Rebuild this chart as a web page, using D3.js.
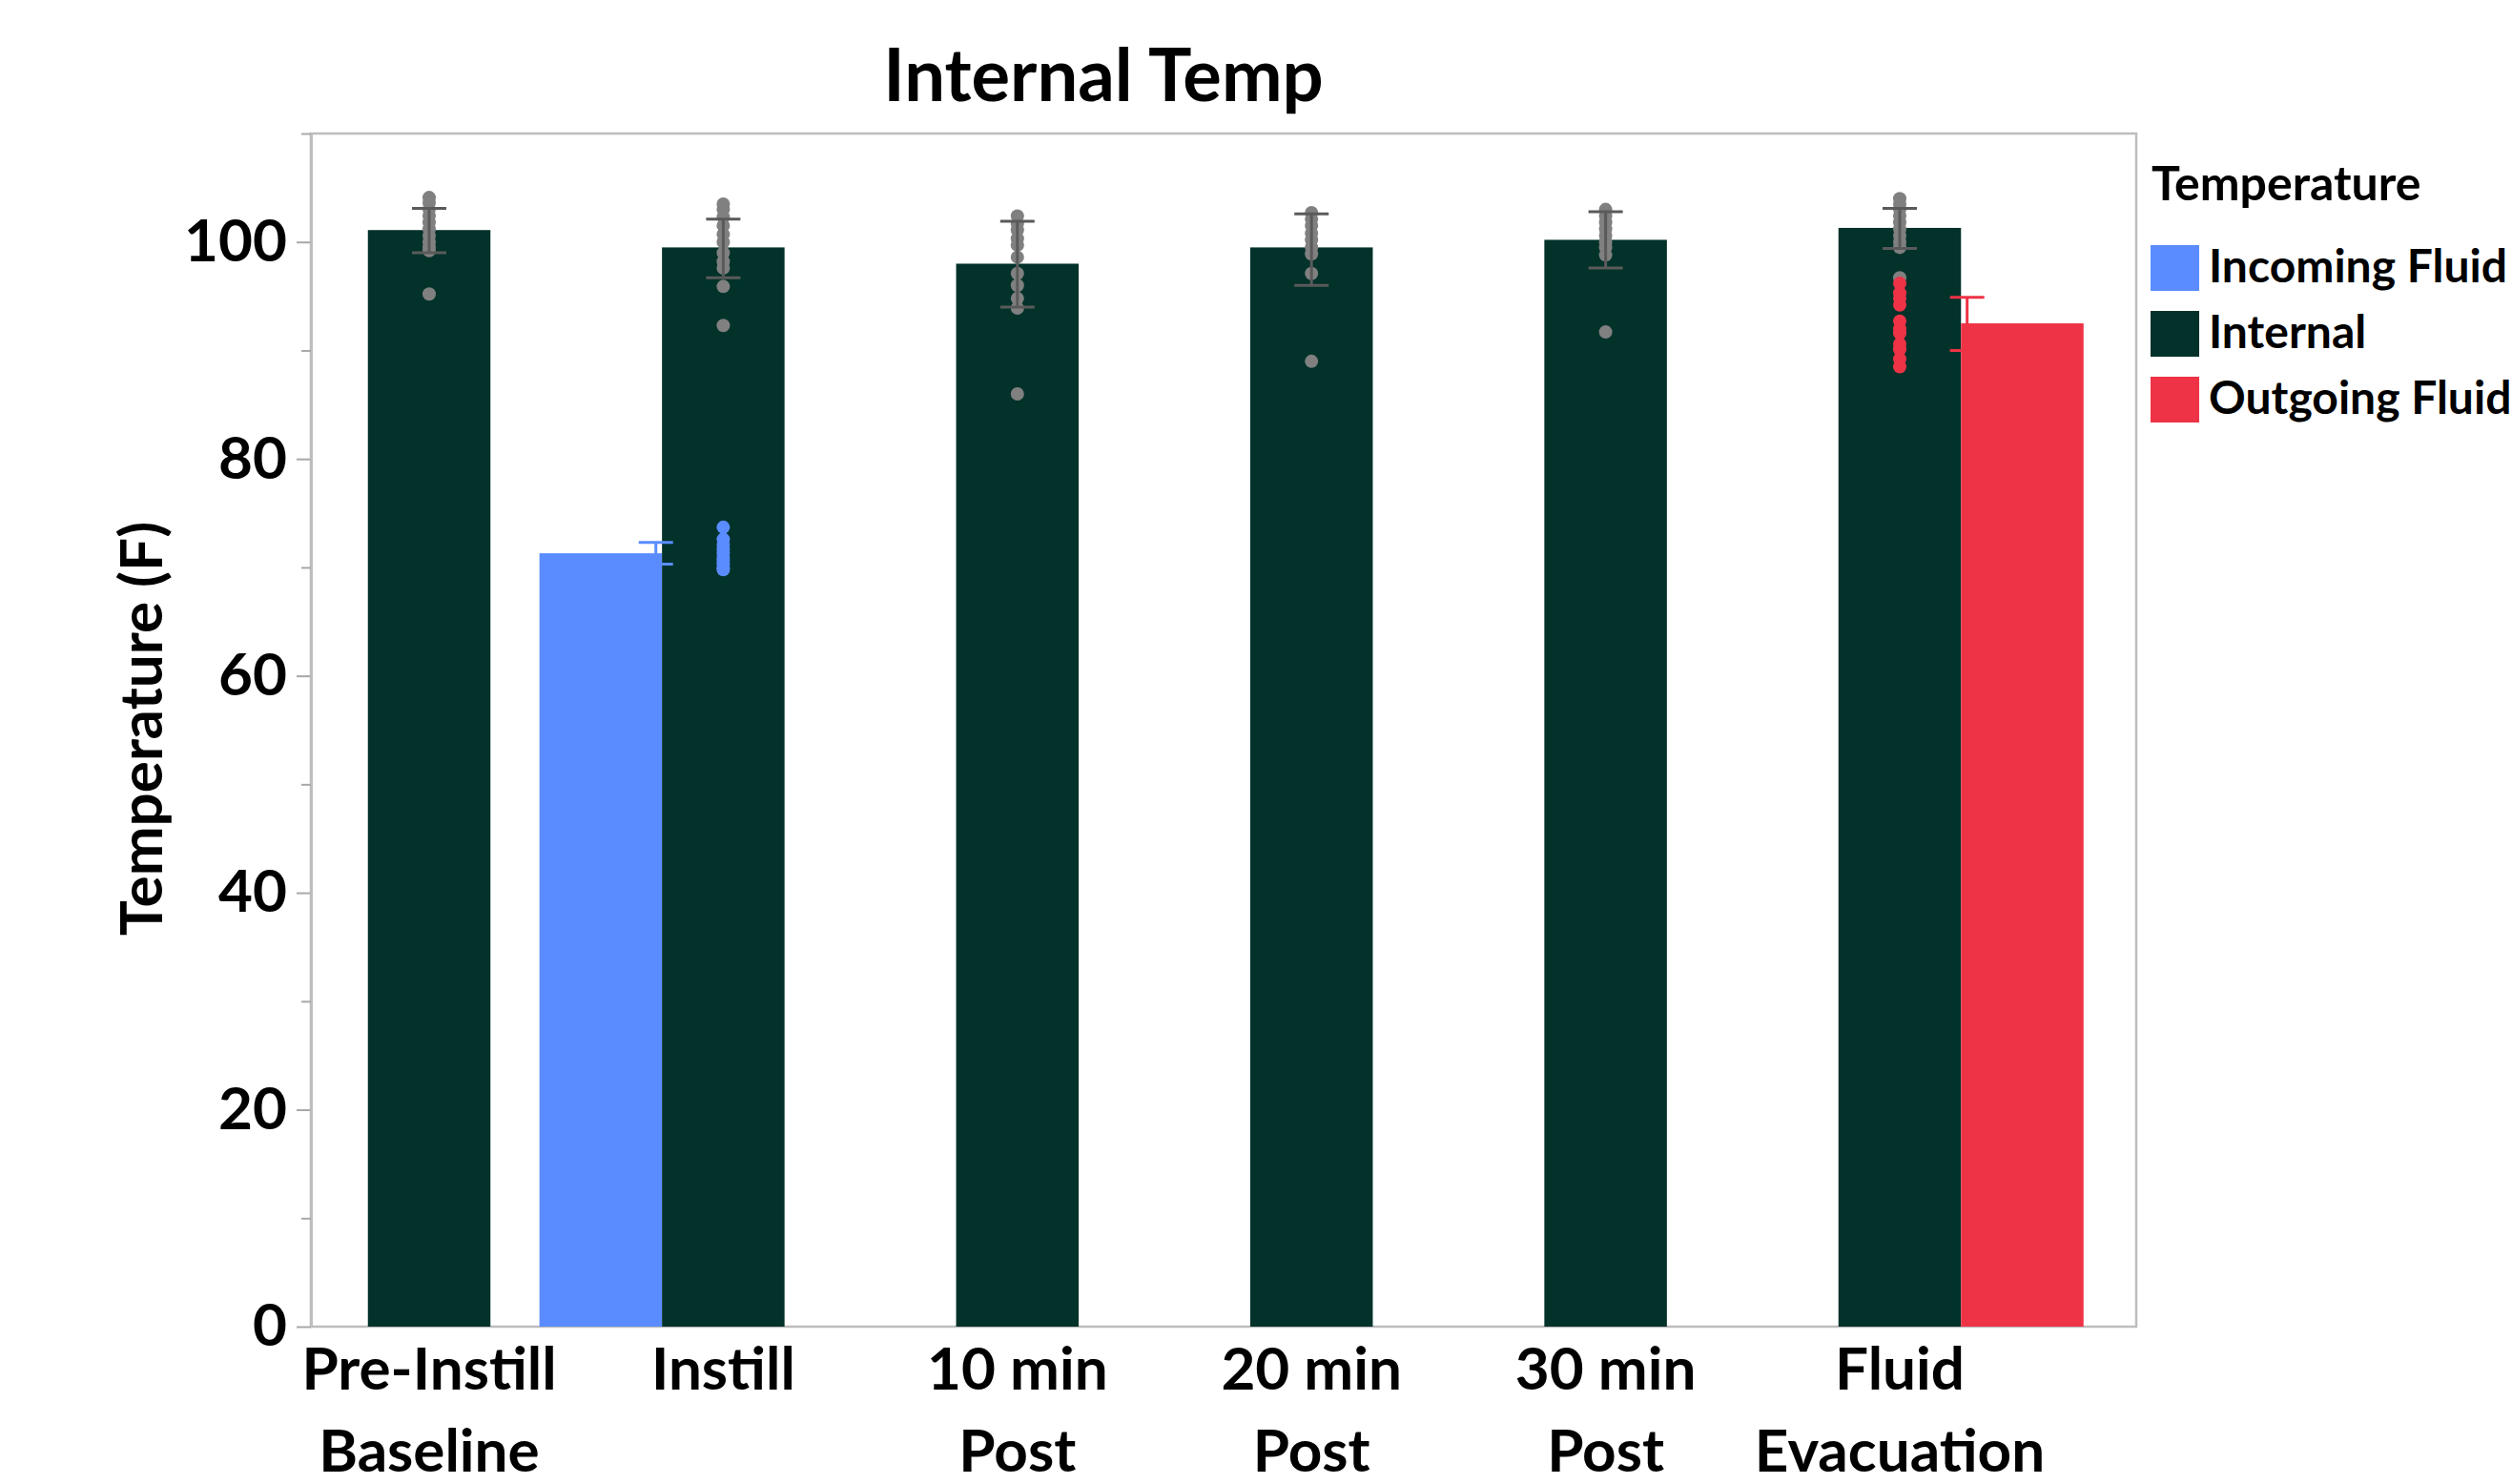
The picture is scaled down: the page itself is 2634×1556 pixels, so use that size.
<!DOCTYPE html>
<html lang="en">
<head>
    <meta charset="UTF-8">
    <title>Internal Temp</title>
    <script src="https://d3js.org/d3.v7.min.js"></script>
    <style>
        body { margin: 0; background: #ffffff; }
        text { font-family: "Lato", "Noto Sans", sans-serif; font-weight: bold; fill: #000; }
    </style>
</head>
<body>
    <svg width="2634" height="1556"></svg>

    <script>
        // Categories (x axis) and the temperature series
        const categories = ["Pre-Instill Baseline", "Instill", "10 min Post", "20 min Post", "30 min Post", "Fluid Evacuation"];
        const categoryLines = [["Pre-Instill", "Baseline"], ["Instill"], ["10 min", "Post"], ["20 min", "Post"], ["30 min", "Post"], ["Fluid", "Evacuation"]];
        const series = ["Incoming Fluid", "Internal", "Outgoing Fluid"];
        const colors = ["#5a8cff", "#02322a", "#ee3346"];

        // Bar means and error bar bounds, one value per category (null = no bar)
        const incomingMeans = [null, 71.3, null, null, null, null];
        const incomingLow   = [null, 70.3, null, null, null, null];
        const incomingHigh  = [null, 72.3, null, null, null, null];

        const internalMeans = [101.1, 99.5, 98.0, 99.5, 100.2, 101.3];
        const internalLow   = [99.0, 96.7, 94.0, 96.0, 97.6, 99.4];
        const internalHigh  = [103.1, 102.1, 101.9, 102.6, 102.8, 103.1];

        const outgoingMeans = [null, null, null, null, null, 92.5];
        const outgoingLow   = [null, null, null, null, null, 90.0];
        const outgoingHigh  = [null, null, null, null, null, 94.9];

        // Individual readings drawn as points
        const internalPoints = [
            [104.1, 103.6, 103.0, 102.4, 101.8, 101.2, 100.6, 100.0, 99.5, 99.2, 95.2],
            [103.5, 103.0, 102.3, 101.5, 100.7, 100.0, 99.0, 98.2, 97.6, 95.9, 92.3],
            [102.4, 101.7, 101.1, 100.3, 99.7, 98.6, 97.1, 96.0, 94.8, 93.9, 86.0],
            [102.7, 102.1, 101.5, 100.8, 100.2, 99.5, 98.9, 97.1, 89.0],
            [103.0, 102.4, 101.8, 101.2, 100.6, 100.0, 99.5, 98.8, 91.7],
            [104.0, 103.5, 103.0, 102.4, 101.8, 101.2, 100.6, 100.0, 99.5, 96.7]
        ];
        const incomingPoints = [[], [73.7, 72.6, 72.1, 71.7, 71.3, 70.9, 70.6, 70.3, 70.0, 69.8], [], [], [], []];
        const outgoingPoints = [[], [], [], [], [], [96.2, 95.3, 94.8, 94.2, 92.7, 92.0, 91.6, 90.6, 90.1, 89.2, 88.5]];

        const yMajorTicks = [0, 20, 40, 60, 80, 100];
        const yMinorTicks = [10, 30, 50, 70, 90, 110];

        // Dimensions
        const margin = { top: 140, right: 394, bottom: 165, left: 326 },
              width = 2634 - margin.left - margin.right,
              height = 1556 - margin.top - margin.bottom;

        const root = d3.select("svg");
        const svg = root.append("g")
                        .attr("transform", `translate(${margin.left},${margin.top})`);

        // Scales
        const x = d3.scalePoint().domain(categories).range([124, 1666]);
        const sub = d3.scaleBand().domain(series).range([-192.75, 192.75]);
        const bw = sub.bandwidth();
        const y = d3.scaleLinear().domain([0, 110]).range([height, 0]);
        const color = d3.scaleOrdinal().domain(series).range(colors);

        // Build table of bars from the arrays
        const seriesMeans = [incomingMeans, internalMeans, outgoingMeans];
        const seriesLow = [incomingLow, internalLow, outgoingLow];
        const seriesHigh = [incomingHigh, internalHigh, outgoingHigh];
        const bars = [];
        series.forEach((s, si) => {
            categories.forEach((c, ci) => {
                if (seriesMeans[si][ci] !== null) {
                    bars.push({ series: s, category: c, mean: seriesMeans[si][ci], low: seriesLow[si][ci], high: seriesHigh[si][ci] });
                }
            });
        });

        // Plot frame
        svg.append("rect")
           .attr("width", width)
           .attr("height", height)
           .attr("fill", "none")
           .attr("stroke", "#bdbdbd")
           .attr("stroke-width", 2.5);

        // Bars
        svg.selectAll(".bar")
           .data(bars)
           .enter()
           .append("rect")
           .attr("class", "bar")
           .attr("x", d => x(d.category) + sub(d.series))
           .attr("y", d => y(d.mean))
           .attr("width", bw)
           .attr("height", d => height - y(d.mean))
           .attr("fill", d => color(d.series));

        // Points: internal readings first, fluid readings on top
        const pointSets = [
            { data: internalPoints, fill: "#808080" },
            { data: incomingPoints, fill: colors[0] },
            { data: outgoingPoints, fill: colors[2] }
        ];
        pointSets.forEach(set => {
            const pts = [];
            set.data.forEach((vals, ci) => vals.forEach(v => pts.push({ category: categories[ci], value: v })));
            svg.append("g")
               .selectAll("circle")
               .data(pts)
               .enter()
               .append("circle")
               .attr("cx", d => x(d.category))
               .attr("cy", d => y(d.value))
               .attr("r", 7)
               .attr("fill", set.fill);
        });

        // Error bars
        const errColor = { "Incoming Fluid": colors[0], "Internal": "#5a5a5a", "Outgoing Fluid": colors[2] };
        const errX = d => x(d.category) + (sub(d.series) + bw / 2) * 0.55;
        const err = svg.selectAll(".err")
                       .data(bars)
                       .enter()
                       .append("g")
                       .attr("class", "err")
                       .attr("stroke", d => errColor[d.series])
                       .attr("stroke-width", 3);
        err.append("line")
           .attr("x1", errX).attr("x2", errX)
           .attr("y1", d => y(d.low)).attr("y2", d => y(d.high));
        err.append("line")
           .attr("x1", d => errX(d) - 18).attr("x2", d => errX(d) + 18)
           .attr("y1", d => y(d.high)).attr("y2", d => y(d.high));
        err.append("line")
           .attr("x1", d => errX(d) - 18).attr("x2", d => errX(d) + 18)
           .attr("y1", d => y(d.low)).attr("y2", d => y(d.low));

        // Y axis, major and minor ticks
        const yAxis = svg.append("g")
                         .call(d3.axisLeft(y).tickValues(yMajorTicks).tickSize(15).tickSizeOuter(0).tickPadding(10));
        yAxis.selectAll("text").style("font-size", "62px").style("font-family", "Lato").style("font-weight", "bold");
        svg.append("g")
           .call(d3.axisLeft(y).tickValues(yMinorTicks).tickSize(10).tickSizeOuter(0).tickFormat(""));
        svg.selectAll(".domain").attr("stroke", "#bdbdbd").attr("stroke-width", 2.5);
        svg.selectAll(".tick line").attr("stroke", "#a8a8a8").attr("stroke-width", 2);

        // X category labels
        const xLabels = svg.selectAll(".xlabel")
                           .data(categories)
                           .enter()
                           .append("text")
                           .attr("class", "xlabel")
                           .attr("x", d => x(d))
                           .attr("y", height + 66)
                           .style("font-size", "62px")
                           .style("text-anchor", "middle");
        xLabels.selectAll("tspan")
               .data((d, i) => categoryLines[i])
               .enter()
               .append("tspan")
               .attr("x", function () { return x(d3.select(this.parentNode).datum()); })
               .attr("dy", (d, i) => i === 0 ? 0 : 86)
               .text(d => d);

        // Y axis title
        svg.append("text")
           .attr("transform", `translate(${148 - margin.left},${764 - margin.top}) rotate(-90)`)
           .attr("dy", "0.35em")
           .style("font-size", "62px")
           .style("text-anchor", "middle")
           .text("Temperature (F)");

        // Chart title
        root.append("text")
            .attr("x", 1157)
            .attr("y", 106)
            .style("font-size", "76px")
            .style("text-anchor", "middle")
            .text("Internal Temp");

        // Legend
        const legend = root.append("g").attr("transform", "translate(2255,0)");
        legend.append("text")
              .attr("x", 1)
              .attr("y", 210)
              .style("font-size", "50px")
              .text("Temperature");
        const item = legend.selectAll(".legend")
                           .data(series)
                           .enter()
                           .append("g")
                           .attr("transform", (d, i) => `translate(0, ${257 + i * 69})`);
        item.append("rect")
            .attr("width", 51)
            .attr("height", 48)
            .attr("fill", color);
        item.append("text")
            .attr("x", 61)
            .attr("y", 39)
            .style("font-size", "48px")
            .text(d => d);
    </script>
</body>
</html>
